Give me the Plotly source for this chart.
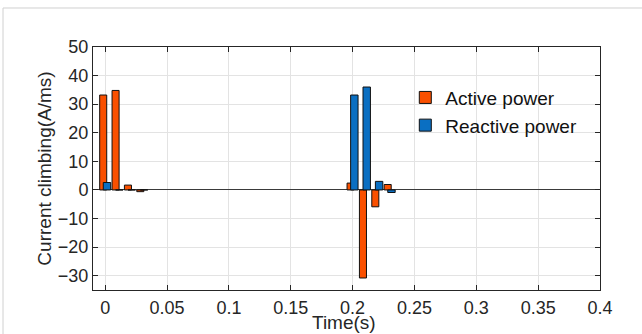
import plotly.graph_objects as go

time_s = [0.0, 0.01, 0.02, 0.03, 0.2, 0.21, 0.22, 0.23]
active_power = [33.2, 34.8, 1.7, -0.6, 2.4, -30.8, -5.9, 1.9]
reactive_power = [2.6, 0.0, 0.0, 0.0, 33.2, 36.0, 3.0, -0.9]
x_ticks = [0, 0.05, 0.1, 0.15, 0.2, 0.25, 0.3, 0.35, 0.4]
x_tick_labels = ["0", "0.05", "0.1", "0.15", "0.2", "0.25", "0.3", "0.35", "0.4"]
y_ticks = [-30, -20, -10, 0, 10, 20, 30, 40, 50]

FONT = "Liberation Sans, Arial, sans-serif"
AX = "#262626"

fig = go.Figure()
fig.add_trace(go.Bar(
    x=time_s, y=active_power, name="Active power",
    width=0.0057, offset=-0.0045,
    marker=dict(color="#FA5000", line=dict(color="#111111", width=1)),
))
fig.add_trace(go.Bar(
    x=time_s, y=reactive_power, name="Reactive power",
    width=0.006, offset=-0.0016,
    marker=dict(color="#0A6FC2", line=dict(color="#111111", width=1)),
))

axis_common = dict(
    showline=True, linecolor=AX, linewidth=1, mirror="ticks",
    ticks="inside", ticklen=5, tickcolor=AX, tickwidth=1,
    showgrid=True, gridcolor="#e3e3e3", gridwidth=1,
    tickfont=dict(family=FONT, size=18, color="#262626"),
    automargin=False,
)

fig.update_layout(
    width=642, height=334,
    margin=dict(l=93, r=42, t=47, b=44),
    paper_bgcolor="white", plot_bgcolor="white",
    barmode="overlay",
    font=dict(family=FONT, size=18, color="#262626"),
    xaxis=dict(
        range=[-0.0099, 0.4], tickvals=x_ticks, ticktext=x_tick_labels,
        zeroline=False, ticklabelstandoff=1,
        **axis_common,
    ),
    yaxis=dict(
        range=[-35, 50], tickvals=y_ticks,
        zeroline=True, zerolinecolor="#3a3a3a", zerolinewidth=1,
        title=dict(text="Current climbing(A/ms)", font=dict(family=FONT, size=19), standoff=1),
        **axis_common,
    ),
    legend=dict(
        x=0.616, y=0.87, xanchor="left", yanchor="top",
        bgcolor="rgba(255,255,255,0)", borderwidth=0,
        font=dict(family=FONT, size=19, color="#111111"),
        itemwidth=30, tracegroupgap=0,
    ),
    showlegend=True,
    annotations=[dict(
        text="Time(s)", xref="paper", yref="paper", x=0.495, y=-0.183,
        xanchor="center", yanchor="bottom", showarrow=False, borderpad=0,
        font=dict(family=FONT, size=19, color="#262626"),
    )],
    shapes=[dict(
        type="rect", xref="paper", yref="paper",
        x0=-0.1775, x1=2, y0=-1, y1=1.1605,
        line=dict(color="#d0d0d0", width=1), fillcolor="rgba(0,0,0,0)", layer="below",
    )],
)

fig.write_html("out.html", config={"displayModeBar": False},
               post_script="document.body.style.margin='0';")
